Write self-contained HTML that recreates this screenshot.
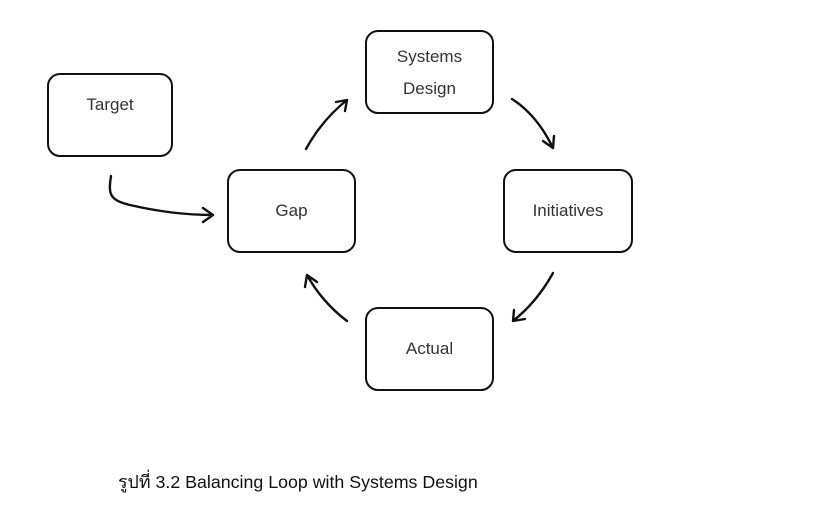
<!DOCTYPE html>
<html><head><meta charset="utf-8"><style>
body{margin:0;background:#fff;width:819px;height:510px;overflow:hidden;position:relative}
.b{position:absolute;border:2px solid #111;border-radius:13px;box-sizing:border-box;font-family:"Liberation Sans",sans-serif;font-size:17px;color:#333;text-align:center}
.cap{position:absolute;left:118px;top:468px;font-family:"Liberation Sans","DejaVu Sans",sans-serif;font-size:17.8px;color:#111;white-space:nowrap}
</style></head><body>
<div class="b" style="left:47px;top:73px;width:126px;height:84px;"><div style="margin-top:20px">Target</div></div>
<div class="b" style="left:227px;top:169px;width:129px;height:84px;line-height:80px">Gap</div>
<div class="b" style="left:365px;top:30px;width:129px;height:84px;line-height:32px;padding-top:9px">Systems<br>Design</div>
<div class="b" style="left:503px;top:169px;width:130px;height:84px;line-height:80px">Initiatives</div>
<div class="b" style="left:365px;top:307px;width:129px;height:84px;line-height:80px">Actual</div>
<svg width="819" height="510" style="position:absolute;left:0;top:0" fill="none" stroke="#111" stroke-width="2.4" stroke-linecap="round" stroke-linejoin="round">
<path d="M111,176 C108,195 110,200 130,205 C160,212 190,215 213,215 M203,208 L213,215 L203,222"/>
<path d="M306,149 Q322,120 347,100 M336,102 L347,100 L345,111"/>
<path d="M512,99 Q537,115 553,148 M543,141 L553,148 L554,136"/>
<path d="M553,273 Q537,302 513,321 M514,310 L513,321 L525,319"/>
<path d="M347,321 Q322,302 307,275 M305,287 L307,275 L317,282"/>
</svg>
<div class="cap">รูปที่ 3.2 Balancing Loop with Systems Design</div>
</body></html>
